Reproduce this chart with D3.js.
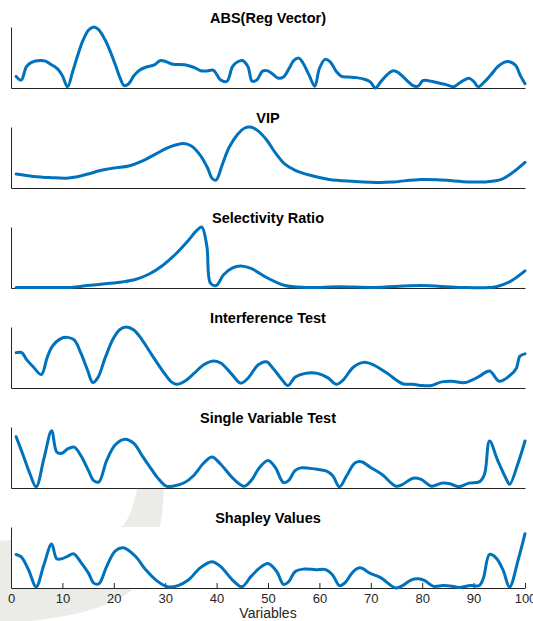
<!DOCTYPE html>
<html>
<head>
<meta charset="utf-8">
<script src="https://cdn.jsdelivr.net/npm/d3@7"></script>
<style>
  body { margin: 0; background: #fff; }
  svg { display: block; }
</style>
</head>
<body>
<script>
"use strict";

// panel titles, top to bottom
const titles = [
  "ABS(Reg Vector)",
  "VIP",
  "Selectivity Ratio",
  "Interference Test",
  "Single Variable Test",
  "Shapley Values"
];

// x ticks of the bottom panel
const xTicks = [0, 10, 20, 30, 40, 50, 60, 70, 80, 90, 100];

// each series: [variable, value scaled to the panel maximum]
const absReg = [
  [1, 0.19], [2, 0.13], [3, 0.35], [4, 0.42], [5.7, 0.45], [6.7, 0.44], [7.7, 0.39],
  [9.1, 0.31], [10, 0.2], [11, 0.02], [12, 0.27], [13, 0.54], [14, 0.78], [15.1, 0.95],
  [16.1, 1.0], [17, 0.96], [18.3, 0.79], [19.3, 0.6], [20.3, 0.38], [21.2, 0.17], [22, 0.04],
  [22.9, 0.07], [23.9, 0.2], [25, 0.29], [26.2, 0.34], [27.9, 0.38], [29.1, 0.45], [30.2, 0.43],
  [31.5, 0.39], [33.8, 0.38], [35.5, 0.34], [37.1, 0.28], [38.1, 0.28], [39.4, 0.29], [40.1, 0.21],
  [40.8, 0.13], [42, 0.11], [43.1, 0.35], [44.1, 0.43], [45, 0.45], [46.1, 0.35], [46.9, 0.11],
  [47.8, 0.13], [49, 0.28], [50, 0.28], [51, 0.22], [52, 0.16], [53, 0.18], [54.1, 0.32],
  [55, 0.45], [56, 0.49], [56.8, 0.41], [58, 0.21], [59.1, 0.03], [60, 0.32], [61.1, 0.47],
  [62.1, 0.43], [63.3, 0.27], [64.3, 0.19], [65.6, 0.18], [67.2, 0.17], [68.9, 0.14], [69.9, 0.1],
  [70.9, 0.0], [71.9, 0.1], [73.2, 0.22], [74.2, 0.28], [75.2, 0.26], [76.2, 0.19], [77.2, 0.11],
  [78.2, 0.04], [79.2, 0.03], [80.1, 0.12], [81.2, 0.12], [82.8, 0.09], [84.5, 0.06], [86.1, 0.02],
  [87.4, 0.09], [89.1, 0.16], [90.1, 0.1], [90.9, 0.02], [92.1, 0.1], [93.4, 0.22], [94.7, 0.35],
  [95.9, 0.42], [97, 0.43], [98.2, 0.37], [99, 0.22], [100, 0.07]
];

const vip = [
  [1, 0.23], [4.4, 0.19], [7.7, 0.17], [10.7, 0.16], [12.6, 0.18], [15, 0.23], [17.6, 0.29],
  [20.3, 0.33], [22.9, 0.36], [25.5, 0.44], [28.2, 0.56], [30.8, 0.67], [33.5, 0.73], [35.1, 0.69],
  [36.8, 0.54], [38.3, 0.32], [39.1, 0.16], [39.9, 0.13], [41.1, 0.38], [42.4, 0.66], [44.1, 0.88],
  [45.4, 0.98], [46.6, 1.0], [48, 0.94], [49.7, 0.79], [51.4, 0.58], [53.3, 0.39], [55.3, 0.29],
  [58.6, 0.2], [61.9, 0.14], [66.6, 0.11], [71.9, 0.09], [74.5, 0.1], [79.8, 0.14], [83.8, 0.13],
  [89.1, 0.1], [92.4, 0.1], [95.4, 0.14], [97.7, 0.26], [100, 0.42]
];

const selRatio = [
  [1, 0.01], [7.7, 0.01], [11.6, 0.01], [14.9, 0.04], [18.3, 0.07], [21.6, 0.1], [24.2, 0.14],
  [26.9, 0.23], [29.5, 0.37], [32.2, 0.57], [34.5, 0.78], [36.1, 0.94], [37.1, 1.0], [38.1, 0.69],
  [38.8, 0.08], [39.9, 0.04], [41.4, 0.22], [43.1, 0.33], [44.7, 0.36], [46.7, 0.32], [50, 0.16],
  [53.3, 0.04], [57.3, 0.01], [63.9, 0.02], [70.5, 0.01], [79.8, 0.04], [87.1, 0.01], [94.4, 0.02],
  [97, 0.1], [100, 0.28]
];

const interference = [
  [1, 0.58], [2.1, 0.58], [3, 0.47], [4.4, 0.34], [5.9, 0.22], [7, 0.49], [8, 0.68], [9.7, 0.81],
  [11, 0.83], [12.3, 0.79], [13.6, 0.57], [14.9, 0.29], [15.9, 0.09], [16.9, 0.17], [18.3, 0.49],
  [19.9, 0.81], [21.2, 0.96], [22.4, 1.0], [23.9, 0.95], [25.5, 0.79], [27.5, 0.53], [29.5, 0.28],
  [31.2, 0.1], [32.2, 0.06], [33.8, 0.11], [35.5, 0.23], [37.5, 0.38], [39.1, 0.44], [40.8, 0.41],
  [42.8, 0.24], [44.7, 0.08], [46.1, 0.16], [48.1, 0.38], [49.7, 0.43], [51, 0.32], [52.7, 0.14],
  [53.9, 0.04], [55.3, 0.18], [57.3, 0.24], [59.6, 0.24], [61.6, 0.17], [63.3, 0.06], [64.6, 0.13],
  [66.6, 0.34], [68.6, 0.42], [70.5, 0.38], [73.2, 0.24], [76.2, 0.07], [78.2, 0.06], [80.1, 0.04],
  [81.8, 0.04], [83.8, 0.1], [85.8, 0.11], [88.4, 0.09], [91.1, 0.19], [93.1, 0.28], [95, 0.11],
  [97, 0.2], [98.3, 0.32], [99, 0.52], [100, 0.56]
];

const singleVar = [
  [1, 0.84], [2.4, 0.53], [3.7, 0.23], [4.9, 0.02], [6.4, 0.48], [7.9, 0.94], [8.9, 0.59],
  [9.9, 0.57], [11, 0.64], [12.3, 0.67], [13.6, 0.53], [15.1, 0.28], [16.1, 0.12], [17.1, 0.1],
  [18.6, 0.45], [20.3, 0.71], [22.2, 0.8], [23.9, 0.73], [25.5, 0.53], [26.9, 0.36], [28.5, 0.17],
  [30.2, 0.03], [31.5, 0.03], [33.8, 0.09], [35.5, 0.2], [37.5, 0.41], [39.1, 0.51], [40.8, 0.39],
  [43.4, 0.14], [45.4, 0.03], [46.7, 0.12], [48.4, 0.34], [50, 0.45], [51.4, 0.34], [53, 0.09],
  [54, 0.12], [55.2, 0.28], [56.3, 0.33], [59.3, 0.31], [61.3, 0.28], [62.6, 0.2], [63.9, 0.02],
  [65.3, 0.2], [66.9, 0.41], [68.2, 0.43], [69.9, 0.34], [72.2, 0.22], [74.9, 0.03], [76.2, 0.06],
  [78.2, 0.16], [79.8, 0.14], [81.8, 0.03], [83.8, 0.08], [85.4, 0.07], [87.1, 0.02], [89.1, 0.08],
  [91.1, 0.1], [92.1, 0.22], [93.1, 0.77], [94.7, 0.45], [96.4, 0.14], [97, 0.06], [98.7, 0.42],
  [100, 0.77]
];

const shapley = [
  [1, 0.55], [2, 0.51], [3.4, 0.3], [4.9, 0.02], [6.4, 0.38], [7.9, 0.72], [8.9, 0.48], [9.9, 0.48],
  [11, 0.52], [12.2, 0.56], [13.6, 0.42], [15.1, 0.24], [16.1, 0.08], [17.1, 0.07], [18.6, 0.35],
  [20.3, 0.61], [21.9, 0.66], [24.2, 0.52], [26.2, 0.3], [28.2, 0.13], [30.5, 0.02], [32.5, 0.04],
  [34.5, 0.13], [36.8, 0.33], [39.1, 0.43], [40.8, 0.35], [43.1, 0.13], [44.9, 0.02], [46.7, 0.19],
  [48.4, 0.33], [50, 0.4], [51.7, 0.27], [53, 0.06], [54, 0.1], [55.3, 0.27], [57, 0.31],
  [59.3, 0.3], [61.2, 0.3], [62.6, 0.21], [63.9, 0.04], [64.9, 0.08], [66.6, 0.27], [67.9, 0.33],
  [69.9, 0.24], [71.9, 0.17], [74.9, 0.0], [76.2, 0.04], [77.8, 0.13], [79.2, 0.15], [80.5, 0.12],
  [82.1, 0.03], [84.1, 0.04], [85.8, 0.03], [87.1, 0.01], [89.4, 0.04], [91.1, 0.04], [91.9, 0.16],
  [93.1, 0.55], [94.4, 0.49], [95.7, 0.3], [97, 0.02], [98.7, 0.47], [100, 0.89]
];

const series = [absReg, vip, selRatio, interference, singleVar, shapley];

const m = {
  width: 533,
  height: 621,
  left: 11,
  right: 525,
  top: 27,
  panelH: 61,
  step: 100
};

const axisColor = "#262626";
const lineColor = "#0072BD";

const svg = d3
  .select("body")
  .append("svg")
  .attr("width", m.width)
  .attr("height", m.height)
  .style("font-family", "'Liberation Sans', Arial, Helvetica, sans-serif");

// faint grey swoosh in the background (visible only between the panels)
svg
  .append("path")
  .attr("fill", "#ebebe8")
  .attr(
    "d",
    "M145,440 L165,440 C166,525 155,572 132,590 C108,610 60,620 -5,624 " +
      "L-5,541 C40,538 100,535 122,527 C132,515 138,495 145,440 Z"
  );

const x = d3.scaleLinear().domain([0, 100]).range([m.left, m.right]);

const line = d3
  .line()
  .x(d => x(d[0]))
  .curve(d3.curveCatmullRom.alpha(0.5));

series.forEach((data, i) => {
  const top = m.top + i * m.step;
  const bottom = top + m.panelH;
  const y = d3.scaleLinear().domain([0, 1]).range([bottom, top]);
  const last = i === series.length - 1;

  const g = svg.append("g");

  // white axes background
  g.append("rect")
    .attr("x", m.left)
    .attr("y", top)
    .attr("width", m.right - m.left)
    .attr("height", m.panelH)
    .attr("fill", "#fff");

  const xAxis = d3.axisBottom(x).tickSizeOuter(0);
  if (last) {
    xAxis.tickValues(xTicks).tickSizeInner(-5).tickPadding(5.5);
  } else {
    xAxis.tickValues([]);
  }

  const gx = g
    .append("g")
    .attr("transform", `translate(0,${bottom})`)
    .call(xAxis);

  const gy = g
    .append("g")
    .attr("transform", `translate(${m.left},0)`)
    .call(d3.axisLeft(y).tickValues([]).tickSizeOuter(0));

  [gx, gy].forEach(a => {
    a.select(".domain").attr("stroke", axisColor).attr("stroke-width", 1);
    a.selectAll(".tick line").attr("stroke", axisColor);
    a.selectAll(".tick text")
      .attr("fill", axisColor)
      .style("font-size", "13px")
      .style("font-family", "'Liberation Sans', Arial, sans-serif");
  });

  g.append("path")
    .datum(data)
    .attr("fill", "none")
    .attr("stroke", lineColor)
    .attr("stroke-width", 3)
    .attr("stroke-linejoin", "round")
    .attr("stroke-linecap", "round")
    .attr("d", line.y(d => y(d[1])));

  g.append("text")
    .attr("x", (m.left + m.right) / 2)
    .attr("y", top - 4.5)
    .attr("text-anchor", "middle")
    .attr("fill", "#000")
    .style("font-size", "14.5px")
    .style("font-weight", "bold")
    .text(titles[i]);
});

svg
  .append("text")
  .attr("x", (m.left + m.right) / 2)
  .attr("y", 618)
  .attr("text-anchor", "middle")
  .attr("fill", axisColor)
  .style("font-size", "14px")
  .text("Variables");
</script>
</body>
</html>
